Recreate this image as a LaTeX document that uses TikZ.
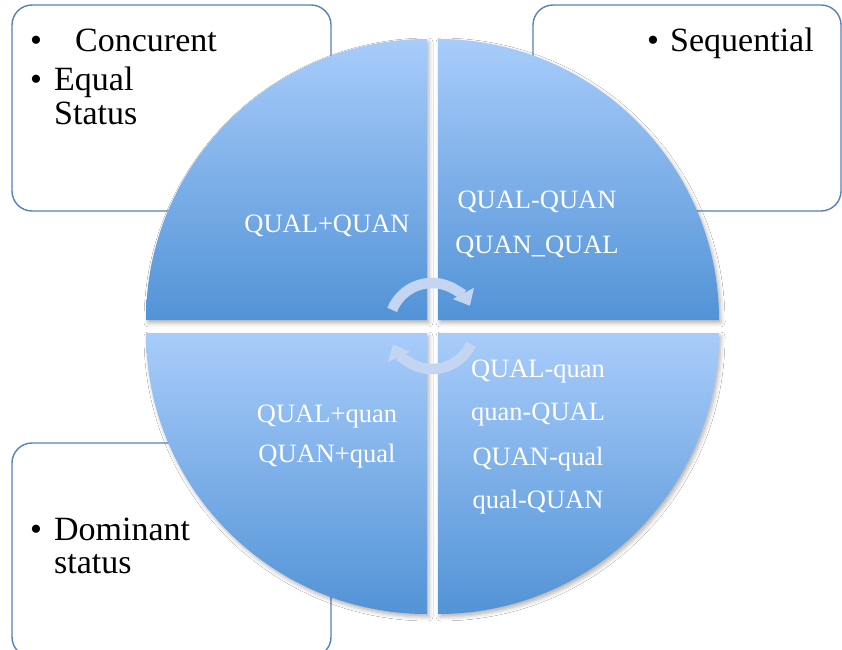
\documentclass[tikz,border=0pt]{standalone}
\usepackage{fontspec}
\setmainfont{Liberation Serif}
\usetikzlibrary{arrows.meta,shadows.blur}

\definecolor{boxblue}{RGB}{84,130,190}
\definecolor{qtop}{RGB}{168,204,250}
\definecolor{qbot}{RGB}{82,147,214}
\definecolor{arrowc}{RGB}{196,213,241}

\tikzset{
  infobox/.style={draw=boxblue, line width=1.4pt, fill=white, rounded corners=20pt},
  quadrant/.style={top color=qtop, bottom color=qbot,
    blur shadow={shadow xshift=2pt, shadow yshift=-3pt, shadow blur radius=4pt, shadow opacity=30}},
  qlabel/.style={text=white, inner sep=0pt, anchor=base, font=\fontsize{26.5}{26.5}\selectfont},
  blabel/.style={text=black, inner sep=0pt, anchor=base west, font=\fontsize{34}{34}\selectfont},
  cyclearrow/.style={draw=arrowc, line width=10.5pt, -{Triangle[width=23pt,length=14pt]}},
}

\begin{document}
\begin{tikzpicture}[x=1pt,y=1pt]
  \useasboundingbox (0,0) rectangle (842,649);
  \clip (0,0) rectangle (842,649);
  \fill[white] (0,0) rectangle (842,649);

  % side text boxes
  \draw[infobox] (12,438) rectangle (331,644);
  \draw[infobox] (533,438) rectangle (841,644);
  \draw[infobox] (12,-8) rectangle (331,206);

  % four quarter discs
  \path[quadrant] (427,329) -- (146,329) arc (180:90:281) -- cycle;
  \path[quadrant] (438,329) -- (438,610) arc (90:0:281) -- cycle;
  \path[quadrant] (427,316) -- (427,35) arc (270:180:281) -- cycle;
  \path[quadrant] (438,316) -- (719,316) arc (0:-90:281) -- cycle;

  % box texts
  \node[blabel] (b1) at (30,597) {•};
  \node[blabel] (t1) at (75,597) {Concurent};
  \node[blabel] (b2) at (30,558) {•};
  \node[blabel] (t2) at (54,558) {Equal};
  \node[blabel] (t3) at (54,524) {Status};
  \node[blabel] (b3) at (647,597) {•};
  \node[blabel] (t4) at (670,597) {Sequential};
  \node[blabel] (b4) at (30,109) {•};
  \node[blabel] (t5) at (54,109) {Dominant};
  \node[blabel] (t6) at (54,76) {status};

  % quadrant texts
  \node[qlabel] (q1) at (327,417) {QUAL+QUAN};
  \node[qlabel] (q2) at (537,441) {QUAL-QUAN};
  \node[qlabel] (q3) at (537,396) {QUAN\_QUAL};
  \node[qlabel] (q4) at (327,227) {QUAL+quan};
  \node[qlabel] (q5) at (327,187) {QUAN+qual};
  \node[qlabel] (q6) at (538,272) {QUAL-quan};
  \node[qlabel] (q7) at (538,229) {quan-QUAL};
  \node[qlabel] (q8) at (538,184) {QUAN-qual};
  \node[qlabel] (q9) at (538,141) {qual-QUAN};

  % cycle arrows in the middle
  \coordinate (mid) at (432,323);
  \draw[cyclearrow] ([shift={(158:43)}]mid) arc (158:28:43);
  \draw[cyclearrow] ([shift={(-25:43)}]mid) arc (-25:-155:43);
\end{tikzpicture}
\end{document}
